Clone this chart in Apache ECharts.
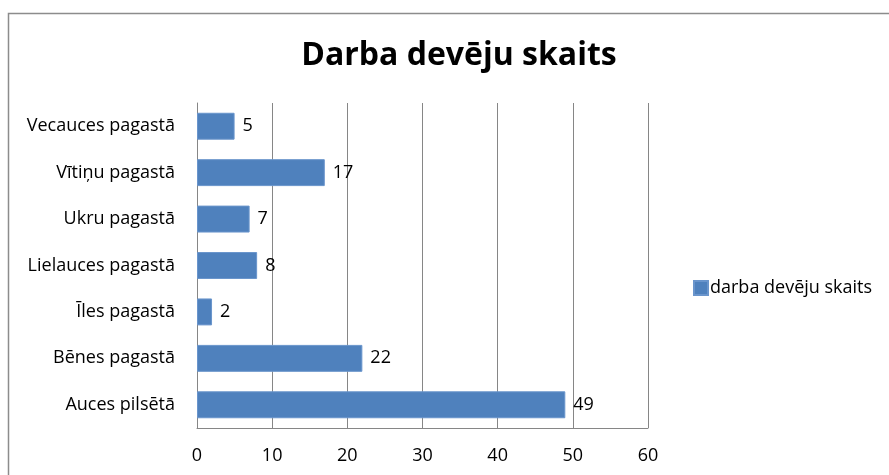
<!DOCTYPE html>
<html>
<head>
<meta charset="utf-8">
<script src="https://cdn.jsdelivr.net/npm/echarts@6/dist/echarts.min.js"></script>
<style>
  html, body { margin: 0; padding: 0; background: #fff; }
  #myChart { width: 889px; height: 475px; }
</style>
</head>
<body>
<div id="myChart"></div>
<script>
var categories = ["Auces pilsētā", "Bēnes pagastā", "Īles pagastā", "Lielauces pagastā", "Ukru pagastā", "Vītiņu pagastā", "Vecauces pagastā"];
var values = [49, 22, 2, 8, 7, 17, 5];
var seriesName = "darba devēju skaits";

var chartDom = document.getElementById("myChart");
var myChart = echarts.init(chartDom);
var font = "'Open Sans', 'Noto Sans', sans-serif";

var option = {
  animation: false,
  textStyle: { fontFamily: font },
  title: {
    text: "Darba devēju skaits",
    left: 454,
    textAlign: "center",
    top: 35,
    textStyle: { fontSize: 32, fontWeight: "bold", color: "#000", fontFamily: font }
  },
  graphic: [
    {
      type: "rect",
      shape: { x: 8.5, y: 13.5, width: 1000, height: 1000 },
      style: { fill: "none", stroke: "#8c8c8c", lineWidth: 1.5 },
      silent: true
    }
  ],
  legend: {
    left: 688,
    top: 274,
    itemWidth: 14,
    itemHeight: 14,
    itemGap: 2,
    textStyle: { fontSize: 18, color: "#000", fontFamily: font, padding: [0, 0, 0, -3] },
    data: [{ name: seriesName, icon: "rect" }]
  },
  grid: { left: 197, right: 241, top: 103, bottom: 47, containLabel: false },
  xAxis: {
    type: "value",
    min: 0,
    max: 60,
    interval: 10,
    axisLine: { show: true, lineStyle: { color: "#868686", width: 1 } },
    axisTick: { show: false },
    axisLabel: { margin: 19, fontSize: 18, color: "#000", fontFamily: font },
    splitLine: { show: true, lineStyle: { color: "#868686", width: 1 } }
  },
  yAxis: {
    type: "category",
    data: categories,
    axisLine: { show: true, lineStyle: { color: "#868686", width: 1 } },
    axisTick: { show: false },
    axisLabel: { margin: 22, fontSize: 18, color: "#000", fontFamily: font }
  },
  series: [
    {
      name: seriesName,
      type: "bar",
      data: values,
      barCategoryGap: "42%",
      itemStyle: { color: "#4F81BD", borderColor: "#6a95cc", borderWidth: 1 },
      label: {
        show: true,
        position: "right",
        distance: 8,
        fontSize: 18,
        color: "#000",
        fontFamily: font
      }
    }
  ]
};

option && myChart.setOption(option);
</script>
</body>
</html>
